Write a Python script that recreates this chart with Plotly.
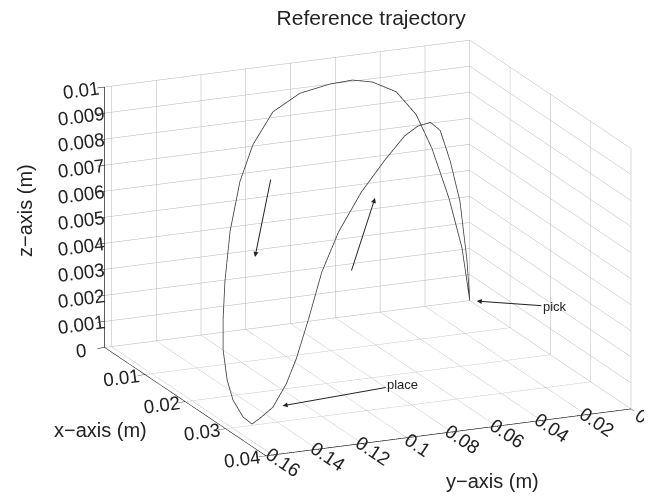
import plotly.graph_objects as go

# ---- data (metres) ----
# outgoing arc: pick -> over the top (z = 0.01) -> place
x_outer = [0.0, 0.0005, 0.0015, 0.003, 0.0045, 0.006, 0.007, 0.0077, 0.0078, 0.0085,
           0.011, 0.013, 0.015, 0.018, 0.021, 0.024, 0.026, 0.028, 0.029, 0.0295, 0.0296]
y_outer = [0.0, 0.0044, 0.0120, 0.0223, 0.0320, 0.0436, 0.0561, 0.0662, 0.0766, 0.0912,
           0.1077, 0.1202, 0.1296, 0.1394, 0.1471, 0.1533, 0.1569, 0.1587, 0.1579, 0.1543, 0.1505]
z_outer = [0.0, 0.00213, 0.00422, 0.0064, 0.00796, 0.00912, 0.00974, 0.0100, 0.00997, 0.00985,
           0.00958, 0.00867, 0.00757, 0.00608, 0.00456, 0.00353, 0.00252, 0.00161, 0.00094, 0.0003, 0.0]
# return arc: place -> lower top -> pick
x_inner = [0.02853, 0.0268, 0.0249, 0.0236, 0.0218, 0.0201, 0.0178, 0.0147, 0.0115, 0.00885,
           0.0071, 0.00536, 0.00403, 0.00268, 0.00133, 0.0004, 0.0]
y_inner = [0.1451, 0.1362, 0.1267, 0.1198, 0.1111, 0.1022, 0.0906, 0.0749, 0.0585, 0.0450,
           0.0361, 0.0272, 0.0205, 0.0136, 0.0068, 0.0020, 0.0]
z_inner = [0.00005, 0.00019, 0.0008, 0.00158, 0.00282, 0.00433, 0.00549, 0.00652, 0.00725, 0.00774,
           0.00783, 0.0077, 0.00718, 0.0058, 0.00403, 0.00163, 0.0]

pick_point = (0.0, 0.0, 0.0)
place_point = (0.0268, 0.1362, 0.00019)

x_ticks = [0, 0.01, 0.02, 0.03, 0.04]
x_ticktext = ["0", "0.01", "0.02", "0.03", "0.04"]
y_ticks = [0, 0.02, 0.04, 0.06, 0.08, 0.1, 0.12, 0.14, 0.16]
y_ticktext = ["0", "0.02", "0.04", "0.06", "0.08", "0.1", "0.12", "0.14", "0.16"]
z_ticks = [0, 0.001, 0.002, 0.003, 0.004, 0.005, 0.006, 0.007, 0.008, 0.009, 0.01]
z_ticktext = ["0", "0.001", "0.002", "0.003", "0.004", "0.005", "0.006", "0.007", "0.008", "0.009", "0.01"]

x_range = [0.04, 0.0]      # reversed, as in the reference
y_range = [0.0, 0.163]
z_range = [0.0, 0.01]

FONT = "Liberation Sans, Arial, Helvetica, sans-serif"
W, H = 652, 498
PAGE_OFF = 8   # default page margin of the html body


def px(u, v):
    """pixel position on the photographed page -> paper fraction"""
    return (u - PAGE_OFF) / W, 1 - (v - PAGE_OFF) / H


xs = x_outer + x_inner
ys = y_outer + y_inner
zs = z_outer + z_inner

fig = go.Figure()
fig.add_trace(go.Scatter3d(
    x=xs, y=ys, z=zs, mode="lines",
    line=dict(color="#3c3c3c", width=1.6),
    hoverinfo="skip", showlegend=False,
))

axis_common = dict(
    showbackground=False,
    showgrid=True, gridcolor="#b4b4b4", gridwidth=1,
    showline=True, linecolor="black", linewidth=1.2,
    ticks="outside", tickcolor="black",
    zeroline=False, showspikes=False,
    tickfont=dict(family=FONT, size=15, color="#222"),
    title=dict(text=""),
)

eye_dir = (-0.876, 0.383, 0.294)
D = 2.0
S = 1.72   # orthographic zoom factor (applied through the aspect ratio)
shift = 34 / 235.0   # horizontal view shift (scene units)

a1 = px(255, 257)
a2 = px(375, 198)
lx = px(100, 430)
ly = px(492, 481)
lz = px(25, 211)

fig.update_layout(
    width=W, height=H,
    paper_bgcolor="white", plot_bgcolor="white",
    margin=dict(l=0, r=0, t=0, b=0),
    title=dict(text="Reference trajectory", x=0.557, xanchor="center",
               y=1 - 10 / 498, yanchor="middle",
               font=dict(family=FONT, size=21, color="#222")),
    scene=dict(
        domain=dict(x=[0.0, 1.0], y=[0.048, 0.988]),
        xaxis=dict(range=x_range, tickvals=x_ticks, ticktext=x_ticktext, ticklen=8, **axis_common),
        yaxis=dict(range=y_range, tickvals=y_ticks, ticktext=y_ticktext, ticklen=8, **axis_common),
        zaxis=dict(range=z_range, tickvals=z_ticks, ticktext=z_ticktext, ticklen=12, **axis_common),
        aspectmode="manual",
        aspectratio=dict(x=1.0 * S, y=0.99 * S, z=0.677 * S),
        camera=dict(
            projection=dict(type="orthographic"),
            up=dict(x=0, y=0, z=1),
            center=dict(x=0.4004 * shift, y=0.9164 * shift, z=0),
            eye=dict(x=eye_dir[0] * D + 0.4004 * shift,
                     y=eye_dir[1] * D + 0.9164 * shift,
                     z=eye_dir[2] * D),
        ),
        annotations=[
            dict(x=pick_point[0], y=pick_point[1], z=pick_point[2], text="pick",
                 showarrow=True, ax=85, ay=6, arrowhead=2, arrowsize=1, arrowwidth=1,
                 arrowcolor="#222", standoff=7,
                 font=dict(family=FONT, size=13, color="#222")),
            dict(x=place_point[0], y=place_point[1], z=place_point[2], text="place",
                 showarrow=True, ax=130, ay=-23, arrowhead=2, arrowsize=1, arrowwidth=1,
                 arrowcolor="#222", standoff=10,
                 font=dict(family=FONT, size=13, color="#222")),
        ],
    ),
    annotations=[
        # direction-of-travel arrows
        dict(x=a1[0], y=a1[1], xref="paper", yref="paper", text="",
             showarrow=True, ax=16, ay=-79, axref="pixel", ayref="pixel",
             arrowhead=2, arrowsize=1, arrowwidth=1, arrowcolor="#222"),
        dict(x=a2[0], y=a2[1], xref="paper", yref="paper", text="",
             showarrow=True, ax=-24, ay=74, axref="pixel", ayref="pixel",
             arrowhead=2, arrowsize=1, arrowwidth=1, arrowcolor="#222"),
        # axis titles
        dict(x=lx[0], y=lx[1], xref="paper", yref="paper",
             xanchor="center", yanchor="middle",
             text="x−axis (m)", showarrow=False,
             font=dict(family=FONT, size=20, color="#222")),
        dict(x=ly[0], y=ly[1], xref="paper", yref="paper",
             xanchor="center", yanchor="middle",
             text="y−axis (m)", showarrow=False,
             font=dict(family=FONT, size=20, color="#222")),
        dict(x=lz[0], y=lz[1], xref="paper", yref="paper",
             xanchor="center", yanchor="middle",
             text="z−axis (m)", showarrow=False, textangle=-90,
             font=dict(family=FONT, size=20, color="#222")),
    ],
)

fig.write_html("out.html", config={"displayModeBar": False})
